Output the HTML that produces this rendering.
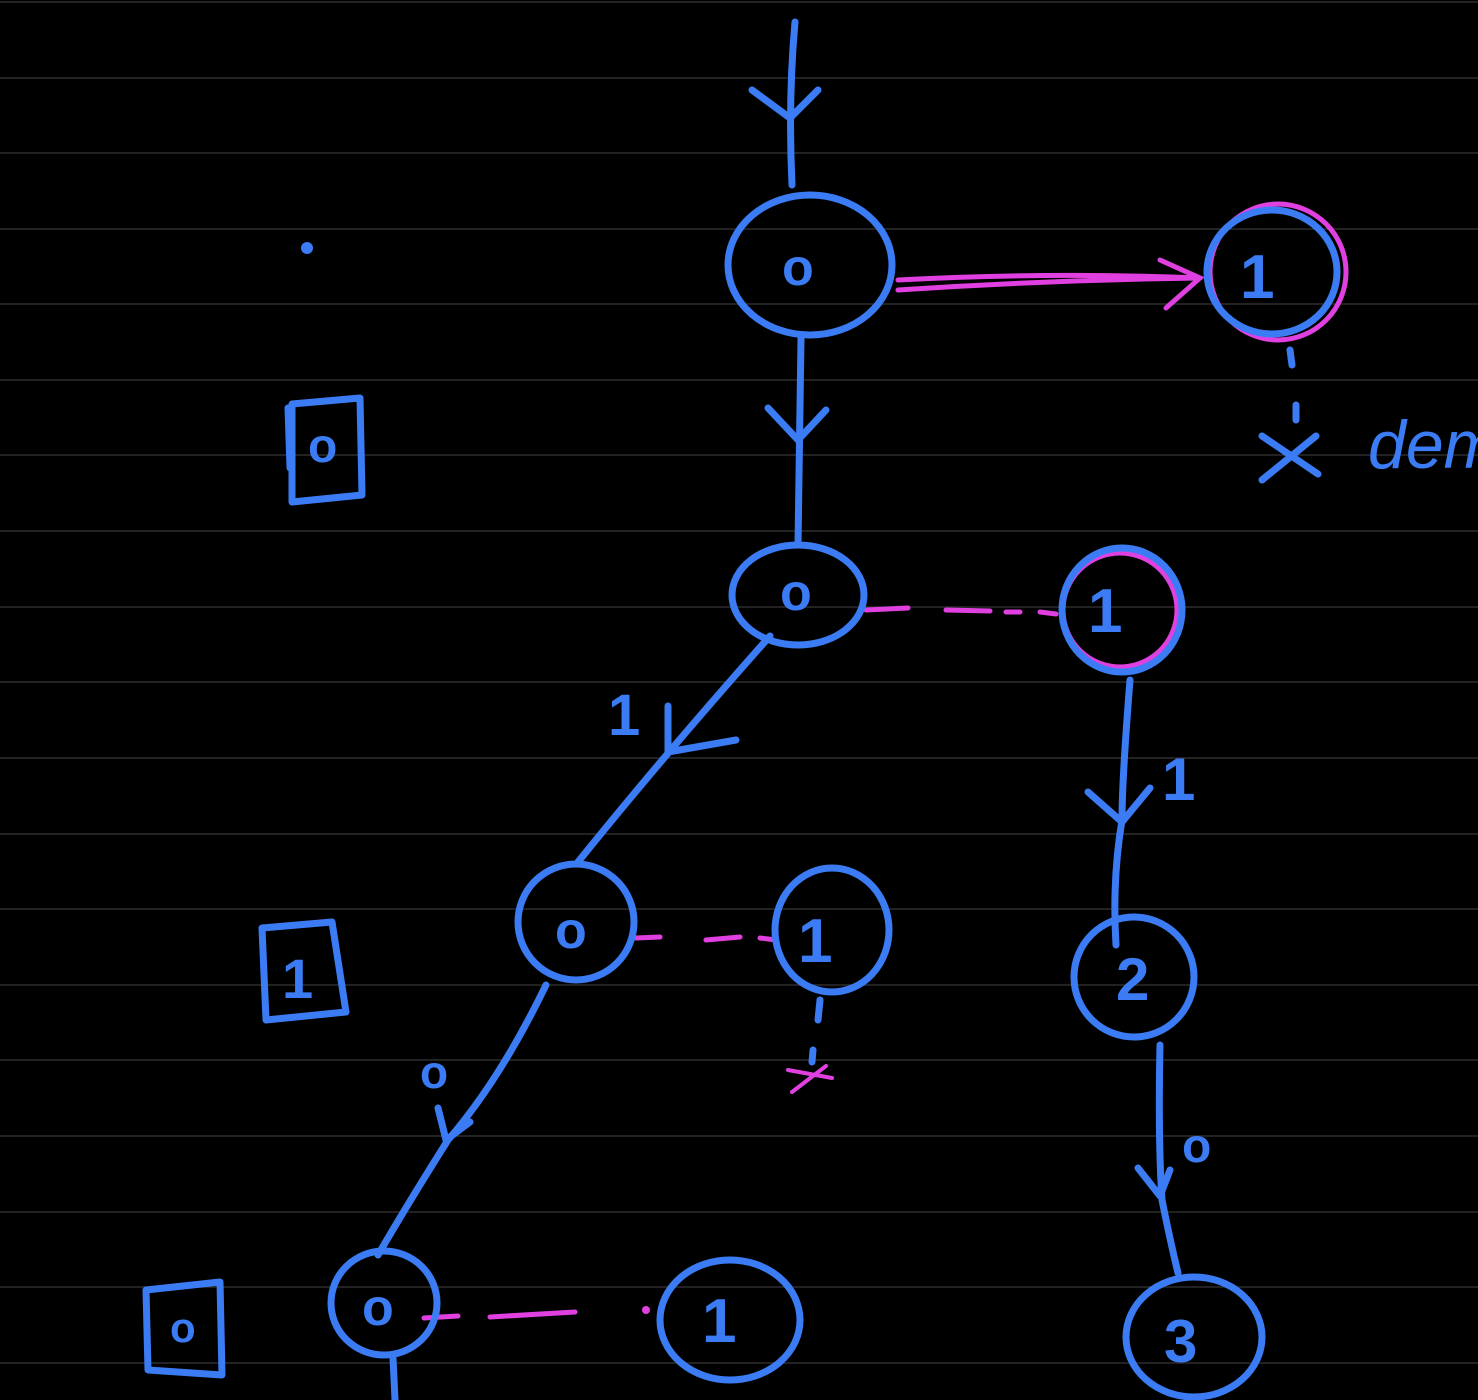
<!DOCTYPE html>
<html><head><meta charset="utf-8"><style>
html,body{margin:0;padding:0;background:#000;}
svg{display:block}
text{font-family:"Liberation Sans",sans-serif;fill:#3b7cf5}
</style></head><body>
<svg width="1478" height="1400" viewBox="0 0 1478 1400" xmlns="http://www.w3.org/2000/svg">
<g stroke="#2e2e2e" stroke-width="1.5">
<line x1="0" y1="2" x2="1478" y2="2"/><line x1="0" y1="78" x2="1478" y2="78"/><line x1="0" y1="153" x2="1478" y2="153"/><line x1="0" y1="229" x2="1478" y2="229"/><line x1="0" y1="304" x2="1478" y2="304"/><line x1="0" y1="380" x2="1478" y2="380"/><line x1="0" y1="455" x2="1478" y2="455"/><line x1="0" y1="531" x2="1478" y2="531"/><line x1="0" y1="607" x2="1478" y2="607"/><line x1="0" y1="682" x2="1478" y2="682"/><line x1="0" y1="758" x2="1478" y2="758"/><line x1="0" y1="834" x2="1478" y2="834"/><line x1="0" y1="909" x2="1478" y2="909"/><line x1="0" y1="985" x2="1478" y2="985"/><line x1="0" y1="1060" x2="1478" y2="1060"/><line x1="0" y1="1136" x2="1478" y2="1136"/><line x1="0" y1="1212" x2="1478" y2="1212"/><line x1="0" y1="1287" x2="1478" y2="1287"/><line x1="0" y1="1363" x2="1478" y2="1363"/>
</g>
<g fill="none" stroke="#e040e0" stroke-width="5" stroke-linecap="round">
<path d="M898 280 Q1050 272 1200 278"/><path d="M898 290 Q1050 280 1200 278"/>
<path d="M1160 260 L1200 278 L1166 308"/>
<path d="M866 610 L908 608 M946 610 L990 611 M1006 612 L1020 612 M1040 612 L1056 614"/>
<path d="M636 938 L660 937 M706 940 L740 937 M760 938 L776 940"/>
<path d="M424 1318 L458 1316 M490 1317 L575 1312"/>
<circle cx="646" cy="1310" r="4" fill="#e040e0" stroke="none"/>
<circle cx="1278" cy="272" r="68"/>
<circle cx="1120" cy="610" r="57"/>
</g>
<g fill="none" stroke="#3b7cf5" stroke-width="7" stroke-linecap="round" stroke-linejoin="round">
<path d="M795 22 Q788 100 792 185"/><path d="M752 90 L790 118 L818 90"/>
<ellipse cx="810" cy="265" rx="82" ry="70"/>
<path d="M801 338 L798 545"/><path d="M768 408 L798 440 L826 410"/>
<ellipse cx="798" cy="595" rx="66" ry="50"/>
<ellipse cx="1272" cy="272" rx="65" ry="62"/>
<ellipse cx="1122" cy="610" rx="60" ry="62"/>
<path d="M770 636 Q660 760 578 862"/><path d="M668 706 L668 752 L736 740"/>
<ellipse cx="576" cy="922" rx="58" ry="58"/>
<ellipse cx="832" cy="930" rx="57" ry="62"/>
<path d="M1130 680 Q1122 780 1122 820 Q1112 880 1116 945"/><path d="M1088 792 L1122 822 L1150 788"/>
<ellipse cx="1134" cy="977" rx="60" ry="60"/>
<path d="M1160 1045 Q1158 1140 1162 1200 Q1170 1240 1178 1273"/><path d="M1138 1168 L1160 1196 L1170 1170"/>
<ellipse cx="1194" cy="1337" rx="68" ry="60"/>
<path d="M546 985 Q500 1080 448 1140 Q410 1200 378 1255"/><path d="M438 1108 L446 1140 L470 1122"/>
<ellipse cx="384" cy="1303" rx="53" ry="52"/>
<ellipse cx="730" cy="1320" rx="70" ry="60"/>
<path d="M393 1358 L395 1400"/>
<path d="M292 404 L360 398 L362 495 L292 502 Z M288 408 L290 468"/>
<path d="M262 928 L332 922 L346 1012 L266 1020 Z"/>
<path d="M146 1290 L220 1282 L222 1375 L148 1370 Z"/>
<path d="M1290 350 L1292 365 M1296 405 L1296 420 M1262 436 L1318 474 M1316 436 L1262 480"/>
<path d="M820 1000 L818 1020 M813 1050 L812 1062"/>
</g>
<g fill="none" stroke="#e040e0" stroke-width="4" stroke-linecap="round">
<path d="M788 1070 L832 1078 M826 1066 L792 1092"/>
</g>
<circle cx="307" cy="248" r="6" fill="#3b7cf5"/>
<g font-size="52" font-weight="bold">
<text x="782" y="285">o</text>
<text x="780" y="610">o</text>
<text x="555" y="948">o</text>
<text x="362" y="1325">o</text>
<text x="1240" y="298" font-size="62">1</text>
<text x="1088" y="632" font-size="62">1</text>
<text x="798" y="962" font-size="62">1</text>
<text x="702" y="1342" font-size="62">1</text>
<text x="1116" y="1000" font-size="60">2</text>
<text x="1164" y="1362" font-size="60">3</text>
<text x="308" y="462" font-size="48">o</text>
<text x="282" y="998" font-size="56">1</text>
<text x="170" y="1342" font-size="42">o</text>
<text x="608" y="735" font-size="58">1</text>
<text x="1162" y="800" font-size="60">1</text>
<text x="420" y="1088" font-size="46">o</text>
<text x="1182" y="1162" font-size="48">o</text>
<text x="1368" y="468" font-size="68" font-weight="normal" font-style="italic">dem</text>
</g>
</svg>
</body></html>
